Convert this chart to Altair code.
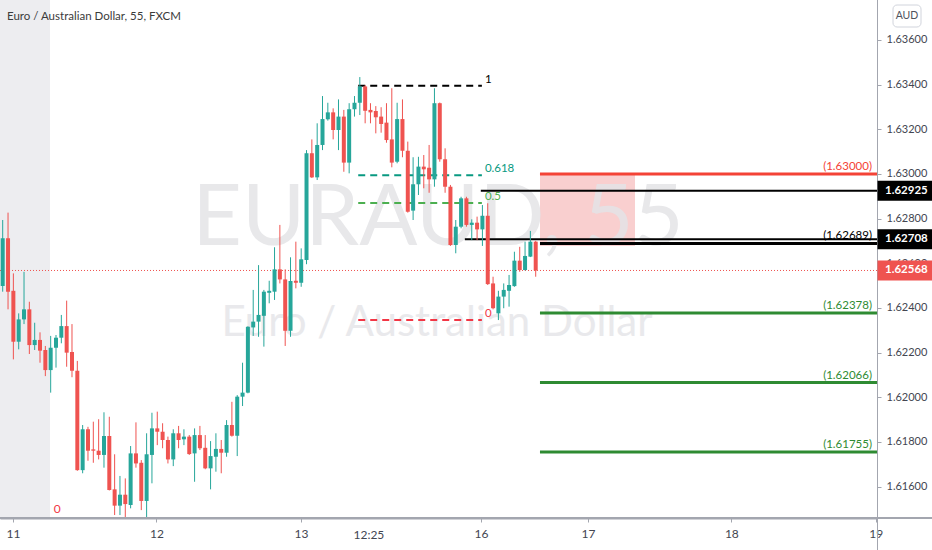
import altair as alt
import numpy as np
import pandas as pd

# ---------------------------------------------------------------- data
# EUR/AUD, 55-minute candles (bar index, open, high, low, close)
opens = [
    1.62498, 1.62712, 1.62477, 1.62249, 1.62349, 1.62394, 1.62234, 1.62257, 1.62212, 1.62122,
    1.62222, 1.62267, 1.62319, 1.62203, 1.62119, 1.61674, 1.61857, 1.61767, 1.61761, 1.61742,
    1.61827, 1.61588, 1.61515, 1.61564, 1.61518, 1.61749, 1.61707, 1.61536, 1.61742, 1.61861,
    1.61846, 1.61809, 1.61722, 1.61839, 1.61812, 1.61824, 1.61749, 1.61831, 1.61774, 1.61682,
    1.61734, 1.61769, 1.61752, 1.61876, 1.61828, 1.62003, 1.62021, 1.62313, 1.62339, 1.62365,
    1.62468, 1.62473, 1.62573, 1.62528, 1.62298, 1.62522, 1.62513, 1.62615, 1.63093, 1.62985,
    1.63130, 1.63245, 1.63276, 1.63197, 1.63257, 1.63051, 1.63290, 1.63319, 1.63392, 1.63287,
    1.63282, 1.63257, 1.63230, 1.63155, 1.63055, 1.63246, 1.63104, 1.62836, 1.62954, 1.63033,
    1.63028, 1.62976, 1.63317, 1.63066, 1.62943, 1.62682, 1.62764, 1.62891, 1.62772, 1.62782,
    1.62752, 1.62813, 1.62510, 1.62376, 1.62451, 1.62477, 1.62498, 1.62612, 1.62570, 1.62630,
    1.62697,
]
highs = [
    1.62794, 1.62827, 1.62555, 1.62376, 1.62562, 1.62428, 1.62334, 1.62291, 1.62230, 1.62275,
    1.62279, 1.62369, 1.62433, 1.62328, 1.62163, 1.61876, 1.61868, 1.61891, 1.61902, 1.61933,
    1.61913, 1.61745, 1.61648, 1.61637, 1.61782, 1.61888, 1.61719, 1.61839, 1.61931, 1.61936,
    1.61884, 1.61824, 1.61857, 1.61872, 1.61857, 1.61831, 1.61861, 1.61872, 1.61831, 1.61804,
    1.61839, 1.61809, 1.61898, 1.61980, 1.62010, 1.62155, 1.62318, 1.62481, 1.62592, 1.62481,
    1.62522, 1.62672, 1.62772, 1.62573, 1.62627, 1.62697, 1.62667, 1.63107, 1.63155, 1.63227,
    1.63349, 1.63319, 1.63294, 1.63334, 1.63287, 1.63317, 1.63349, 1.63434, 1.63398, 1.63317,
    1.63304, 1.63299, 1.63317, 1.63384, 1.63319, 1.63334, 1.63145, 1.63075, 1.63077, 1.63085,
    1.63130, 1.63384, 1.63320, 1.63115, 1.62951, 1.62794, 1.62898, 1.62898, 1.62797, 1.62809,
    1.62861, 1.62869, 1.62540, 1.62477, 1.62510, 1.62548, 1.62652, 1.62674, 1.62697, 1.62745,
    1.62701,
]
lows = [
    1.62473, 1.62394, 1.62170, 1.62215, 1.62328, 1.62194, 1.62212, 1.62155, 1.62095, 1.62021,
    1.62133, 1.62242, 1.62137, 1.62090, 1.61671, 1.61660, 1.61716, 1.61707, 1.61722, 1.61685,
    1.61583, 1.61473, 1.61473, 1.61460, 1.61503, 1.61685, 1.61495, 1.61460, 1.61615, 1.61786,
    1.61772, 1.61704, 1.61692, 1.61772, 1.61786, 1.61742, 1.61622, 1.61764, 1.61678, 1.61588,
    1.61667, 1.61660, 1.61734, 1.61824, 1.61737, 1.61961, 1.62018, 1.62275, 1.62271, 1.62227,
    1.62421, 1.62436, 1.62510, 1.62230, 1.62271, 1.62488, 1.62495, 1.62596, 1.62982, 1.62973,
    1.63107, 1.63239, 1.63155, 1.63107, 1.63010, 1.63003, 1.63257, 1.63264, 1.63227, 1.63227,
    1.63182, 1.63185, 1.63140, 1.63030, 1.63048, 1.63075, 1.62827, 1.62794, 1.62906, 1.62936,
    1.62916, 1.62943, 1.63055, 1.62916, 1.62678, 1.62645, 1.62757, 1.62764, 1.62704, 1.62704,
    1.62678, 1.62503, 1.62394, 1.62346, 1.62399, 1.62406, 1.62495, 1.62562, 1.62568, 1.62628,
    1.62540,
]
closes = [
    1.62712, 1.62473, 1.62249, 1.62349, 1.62394, 1.62234, 1.62257, 1.62209, 1.62122, 1.62222,
    1.62267, 1.62319, 1.62200, 1.62119, 1.61674, 1.61857, 1.61761, 1.61761, 1.61742, 1.61827,
    1.61585, 1.61515, 1.61564, 1.61522, 1.61749, 1.61704, 1.61536, 1.61745, 1.61861, 1.61846,
    1.61809, 1.61722, 1.61839, 1.61809, 1.61824, 1.61746, 1.61831, 1.61772, 1.61682, 1.61737,
    1.61769, 1.61752, 1.61876, 1.61828, 1.62003, 1.62021, 1.62316, 1.62339, 1.62369, 1.62473,
    1.62477, 1.62573, 1.62528, 1.62298, 1.62521, 1.62513, 1.62618, 1.63093, 1.62985, 1.63130,
    1.63246, 1.63276, 1.63197, 1.63257, 1.63051, 1.63290, 1.63319, 1.63392, 1.63283, 1.63276,
    1.63254, 1.63224, 1.63152, 1.63051, 1.63246, 1.63104, 1.62831, 1.62954, 1.63033, 1.63021,
    1.62976, 1.63317, 1.63066, 1.62943, 1.62682, 1.62764, 1.62891, 1.62772, 1.62782, 1.62752,
    1.62813, 1.62507, 1.62399, 1.62451, 1.62481, 1.62503, 1.62612, 1.62570, 1.62633, 1.62697,
    1.62568,
]

last_price = 1.62568

# session shading at the left edge (bar index range)
shade_from, shade_to = -0.507, 8.87

# horizontal levels drawn into the future
level_price = [1.63000, 1.62925, 1.62708, 1.62689, 1.62378, 1.62066, 1.61755]
level_start = [100.8, 89.7, 86.7, 100.8, 100.8, 100.8, 100.8]
level_kind = ["target_up", "marker", "marker", "entry", "target_dn", "target_dn", "target_dn"]
level_label = ["(1.63000)", "", "", "(1.62689)", "(1.62378)", "(1.62066)", "(1.61755)"]

# fibonacci retracement
fib_low, fib_high = 1.62346, 1.63395
fib_ratio = [1, 0.618, 0.5, 0]
fib_text = ["1", "0.618", "0.5", "0"]
fib_from, fib_to = 66.7, 89.9

# price tags on the scale
tag_price = [1.62925, 1.62708, last_price]
tag_kind = ["marker", "marker", "last"]

# time axis
xtick_pos = [1.93, 28.85, 55.97, 89.74, 109.8, 136.7, 163.8]
xtick_lab = ["11", "12", "13", "16", "17", "18", "19"]
cursor_pos, cursor_lab = 68.7, "12:25"

ytick_vals = [1.616, 1.618, 1.620, 1.622, 1.624, 1.626, 1.628, 1.630, 1.632, 1.634, 1.636]

# ---------------------------------------------------------------- style
W, H = 877, 518
PAD_R, PAD_B = 55, 32
FONT = "Lato"
UP, DOWN = "#26a69a", "#ef5350"
AXIS_GREY = "#a3a6af"
TEXT = "#434651"

X_DOMAIN = [-0.507, 164.03]
Y_DOMAIN = [1.614597, 1.637791]

xs = alt.Scale(domain=X_DOMAIN, nice=False, zero=False, padding=0)
ys = alt.Scale(domain=Y_DOMAIN, nice=False, zero=False, padding=0)

label_expr = " : ".join(f"datum.value == {p} ? '{l}'" for p, l in zip(xtick_pos, xtick_lab)) + " : ''"

XAX = alt.Axis(
    title=None, orient="bottom", values=xtick_pos, labelExpr=label_expr, grid=False,
    domainColor=AXIS_GREY, domainWidth=2, tickColor=AXIS_GREY, tickSize=4,
    labelColor=TEXT, labelFontSize=12, labelFont=FONT, labelPadding=6,
    labelFlush=False, labelOverlap=False,
)
YAX = alt.Axis(
    title=None, orient="right", values=ytick_vals, format=".5f", grid=False,
    domainColor=AXIS_GREY, tickColor=AXIS_GREY, tickSize=4,
    labelColor=TEXT, labelFontSize=11, labelFont=FONT, labelPadding=5,
    labelFlush=False, labelOverlap=False,
)


def X(field):
    return alt.X(field, type="quantitative", scale=xs, axis=XAX)


def Y(field):
    return alt.Y(field, type="quantitative", scale=ys, axis=YAX)


# ---------------------------------------------------------------- tables
candles = pd.DataFrame({
    "i": np.arange(len(opens)), "open": opens, "high": highs, "low": lows, "close": closes,
})
candles["dir"] = np.where(candles["close"] >= candles["open"], "up", "down")
dir_color = alt.Color("dir:N", scale=alt.Scale(domain=["up", "down"], range=[UP, DOWN]), legend=None)

levels = pd.DataFrame({
    "price": level_price, "start": level_start, "end": X_DOMAIN[1],
    "kind": level_kind, "label": level_label,
})
kind_color = alt.Color(
    "kind:N",
    scale=alt.Scale(domain=["target_up", "marker", "entry", "target_dn", "last"],
                    range=["#f44336", "#000000", "#000000", "#2e8b32", "#ef5350"]),
    legend=None,
)

fib = pd.DataFrame({
    "ratio": fib_ratio, "text": fib_text, "start": fib_from, "end": fib_to,
})
fib["price"] = fib_low + fib["ratio"] * (fib_high - fib_low)
fib_color = alt.Color(
    "text:N",
    scale=alt.Scale(domain=fib_text, range=["#000000", "#089981", "#4caf50", "#f23645"]),
    legend=None,
)

tags = pd.DataFrame({"price": tag_price, "kind": tag_kind})
tags["text"] = tags["price"].map(lambda v: f"{v:.5f}")

one = pd.DataFrame({"k": [0]})

# ---------------------------------------------------------------- layers
shade = alt.Chart(pd.DataFrame({"a": [shade_from], "b": [shade_to]})).mark_rect(
    color="#ededf0", clip=True
).encode(x=X("a"), x2="b", y=alt.value(0), y2=alt.value(H))

pink = alt.Chart(one).mark_rect(color="#f9cfcf", opacity=1).encode(
    x=alt.value(540), x2=alt.value(635), y=alt.value(174), y2=alt.value(246)
)

wm_big = alt.Chart(one).mark_text(
    text="EURAUD, 55", font=FONT, fontSize=86, color="#e4e4e7", opacity=0.85,
    align="center", baseline="alphabetic",
).encode(x=alt.value(438), y=alt.value(245))

wm_small = alt.Chart(one).mark_text(
    text="Euro / Australian Dollar", font=FONT, fontSize=42, color="#e6e6e9", opacity=0.85,
    align="center", baseline="alphabetic",
).encode(x=alt.value(437), y=alt.value(336))

last_line = alt.Chart(pd.DataFrame({"p": [last_price]})).mark_rule(
    color=DOWN, strokeDash=[1, 2], strokeWidth=1
).encode(y=Y("p"), x=alt.value(0), x2=alt.value(W))

lvl_thick = alt.Chart(levels).transform_filter("datum.kind != 'marker'").mark_rule(
    strokeWidth=3, clip=True
).encode(x=X("start"), x2="end", y=Y("price"), color=kind_color)

lvl_thin = alt.Chart(levels).transform_filter("datum.kind == 'marker'").mark_rule(
    strokeWidth=2, clip=True
).encode(x=X("start"), x2="end", y=Y("price"), color=kind_color)

lvl_text = alt.Chart(levels).transform_filter("datum.label != ''").mark_text(
    font=FONT, fontSize=11.5, align="right", baseline="bottom", dy=-2
).encode(x=alt.value(W - 5), y=Y("price"), text="label:N", color=kind_color)

fib_lines = alt.Chart(fib).mark_rule(strokeWidth=2, strokeDash=[7, 5]).encode(
    x=X("start"), x2="end", y=Y("price"), color=fib_color
)
fib_labels = alt.Chart(fib).mark_text(
    font=FONT, fontSize=11.5, align="left", baseline="bottom", dx=3, dy=-1
).encode(x=X("end"), y=Y("price"), text="text:N", color=fib_color)

wicks = alt.Chart(candles).mark_rule(strokeWidth=1, clip=True).encode(
    x=X("i"), y=Y("low"), y2="high", color=dir_color
)
bodies = alt.Chart(candles).mark_bar(size=4, clip=True).encode(
    x=X("i"), y=Y("open"), y2="close", color=dir_color
)

title = alt.Chart(one).mark_text(
    text="Euro / Australian Dollar, 55, FXCM", font=FONT, fontSize=11.5, color="#3b3b3b",
    align="left", baseline="middle",
).encode(x=alt.value(7), y=alt.value(17))

zero_mark = alt.Chart(pd.DataFrame({"i": [9.6], "p": [1.6147]})).mark_text(
    text="0", font=FONT, fontSize=12, color="#f23645", align="left", baseline="bottom"
).encode(x=X("i"), y=Y("p"))

cursor = alt.Chart(pd.DataFrame({"i": [cursor_pos], "t": [cursor_lab]})).mark_text(
    font=FONT, fontSize=12, color=TEXT, align="center", baseline="middle"
).encode(x=X("i"), y=alt.value(H + 17), text="t:N")

frame_h = alt.Chart(one).mark_rule(color=AXIS_GREY, strokeWidth=2).encode(
    x=alt.value(0), x2=alt.value(W + PAD_R), y=alt.value(H)
)
frame_v = alt.Chart(one).mark_rule(color=AXIS_GREY, strokeWidth=1).encode(
    x=alt.value(W + 0.5), y=alt.value(0), y2=alt.value(H + PAD_B)
)

tag_box = alt.Chart(tags).mark_tick(orient="horizontal", size=PAD_R, thickness=20, opacity=1).encode(
    x=alt.value(W + PAD_R / 2 + 0.5), y=Y("price"), color=kind_color
)
tag_text = alt.Chart(tags).mark_text(
    font=FONT, fontSize=11.5, fontWeight="bold", color="white", align="left", baseline="middle"
).encode(x=alt.value(W + 8), y=Y("price"), text="text:N")

aud_box = alt.Chart(one).mark_rect(
    fill="white", stroke="#d1d4dc", strokeWidth=1, cornerRadius=4
).encode(x=alt.value(893), x2=alt.value(921), y=alt.value(5), y2=alt.value(27))
aud_text = alt.Chart(one).mark_text(
    text="AUD", font=FONT, fontSize=10.5, color="#50535e", align="center", baseline="middle"
).encode(x=alt.value(907), y=alt.value(16))

chart = alt.layer(
    shade, pink, wm_big, wm_small, last_line,
    lvl_thick, lvl_thin, fib_lines, wicks, bodies,
    lvl_text, fib_labels, title, zero_mark, cursor,
    frame_h, frame_v, tag_box, tag_text, aud_box, aud_text,
).resolve_scale(color="independent").properties(
    width=W, height=H,
    padding={"left": 0, "top": 0, "right": PAD_R, "bottom": PAD_B},
    autosize=alt.AutoSizeParams(type="none"),
    background="white",
).configure_view(strokeWidth=0)

chart.save("out.html", embed_options={"renderer": "svg", "actions": False})
